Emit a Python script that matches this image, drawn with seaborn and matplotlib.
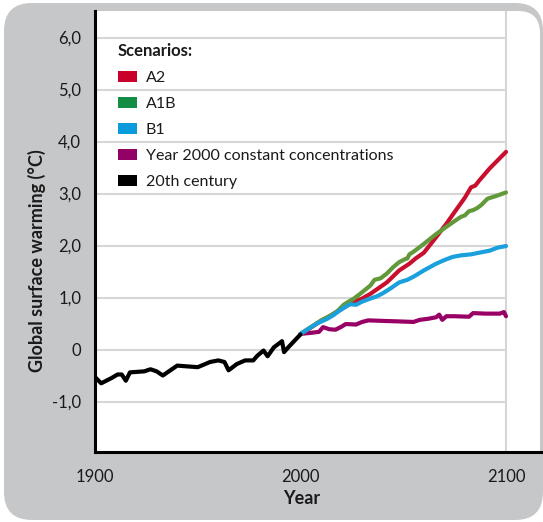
import matplotlib
matplotlib.use("Agg")
import matplotlib.pyplot as plt
from matplotlib.patches import FancyBboxPatch, Rectangle, Patch
from matplotlib.transforms import IdentityTransform
import seaborn as sns
import pandas as pd

# ---- data -------------------------------------------------------------
hist_years = [1900, 1903, 1908, 1911, 1913, 1915, 1917, 1924, 1927, 1930,
              1933, 1940, 1950, 1956, 1960, 1963, 1965, 1969, 1973, 1977,
              1979, 1982, 1984, 1987, 1991, 1992, 1994, 2000]
hist_vals = [-0.53, -0.65, -0.55, -0.48, -0.48, -0.60, -0.44, -0.42, -0.38, -0.42,
             -0.50, -0.31, -0.34, -0.24, -0.21, -0.24, -0.40, -0.28, -0.21, -0.21,
             -0.12, -0.02, -0.13, 0.04, 0.16, -0.05, 0.04, 0.29]

a2_years = [2000, 2005, 2010, 2015, 2020, 2025, 2030, 2034, 2038, 2042, 2048,
            2053, 2056, 2060, 2066, 2071, 2076, 2080, 2083, 2085, 2087, 2092,
            2096, 2100]
a2_vals = [0.30, 0.42, 0.55, 0.66, 0.78, 0.90, 0.98, 1.07, 1.18, 1.29, 1.52,
           1.65, 1.75, 1.86, 2.16, 2.42, 2.70, 2.92, 3.12, 3.15, 3.25, 3.48,
           3.64, 3.80]

a1b_years = [2000, 2005, 2010, 2015, 2018, 2021, 2023, 2026, 2029, 2034, 2036,
             2039, 2042, 2045, 2048, 2051, 2052, 2053, 2055, 2060, 2066, 2071,
             2075, 2078, 2080, 2082, 2084, 2086, 2088, 2091, 2095, 2100]
a1b_vals = [0.30, 0.43, 0.56, 0.66, 0.74, 0.86, 0.91, 0.98, 1.07, 1.23, 1.34,
            1.37, 1.46, 1.58, 1.68, 1.74, 1.75, 1.83, 1.88, 2.03, 2.22, 2.36,
            2.47, 2.55, 2.58, 2.66, 2.68, 2.72, 2.78, 2.90, 2.95, 3.02]

b1_years = [2000, 2004, 2008, 2013, 2016, 2018, 2021, 2024, 2027, 2030, 2034,
            2037, 2040, 2044, 2048, 2052, 2055, 2060, 2066, 2070, 2074, 2078,
            2083, 2088, 2092, 2096, 2100]
b1_vals = [0.30, 0.40, 0.50, 0.59, 0.66, 0.72, 0.80, 0.87, 0.86, 0.92, 0.98,
           1.02, 1.08, 1.18, 1.29, 1.34, 1.40, 1.52, 1.65, 1.72, 1.78, 1.81,
           1.83, 1.87, 1.90, 1.96, 1.99]

const_years = [2000, 2005, 2009, 2011, 2014, 2017, 2020, 2022, 2027, 2030,
               2033, 2040, 2048, 2055, 2058, 2062, 2066, 2067.5, 2069, 2071,
               2075, 2082, 2084, 2090, 2097, 2099, 2100]
const_vals = [0.30, 0.32, 0.34, 0.43, 0.39, 0.38, 0.44, 0.49, 0.48, 0.53,
              0.56, 0.55, 0.54, 0.53, 0.57, 0.59, 0.62, 0.67, 0.57, 0.64,
              0.64, 0.63, 0.70, 0.69, 0.69, 0.72, 0.64]

series_names = ["A2", "A1B", "B1", "Year 2000 constant concentrations", "20th century"]
line_colors = {"A2": "#c8102e", "A1B": "#62993a", "B1": "#1aa0dc",
               "Year 2000 constant concentrations": "#990066",
               "20th century": "#000000"}
legend_colors = ["#c8002a", "#138d44", "#0a9bdc", "#930066", "#000000"]

y_ticks = [-1, 0, 1, 2, 3, 4, 5, 6]
y_tick_labels = ["-1,0", "0", "1,0", "2,0", "3,0", "4,0", "5,0", "6,0"]
x_ticks = [1900, 2000, 2100]
x_tick_labels = ["1900", "2000", "2100"]

frames = []
for name, yrs, vals in [
    ("Year 2000 constant concentrations", const_years, const_vals),
    ("A2", a2_years, a2_vals),
    ("A1B", a1b_years, a1b_vals),
    ("B1", b1_years, b1_vals),
    ("20th century", hist_years, hist_vals),
]:
    frames.append(pd.DataFrame({"year": yrs, "warming": vals, "series": name}))
df = pd.concat(frames, ignore_index=True)

# ---- figure -----------------------------------------------------------
sns.set_theme(style="white")
plt.rcParams["font.family"] = ["Lato", "DejaVu Sans"]
TEXT = "#1a1a1a"
FS = 12
LEG_FS = 11.5

W, H = 543, 522
fig = plt.figure(figsize=(W / 100, H / 100), dpi=100)
fig.patch.set_facecolor("white")

GRAY = "#c6c7c9"
px = IdentityTransform()

def top(y):
    return H - y

# rounded grey frame
fig.add_artist(FancyBboxPatch((4, top(520)), 539, 517,
                              boxstyle="round,pad=0,rounding_size=28",
                              transform=px, facecolor=GRAY, edgecolor="none",
                              zorder=-5))
# white plotting panel with rounded top-right corner
fig.add_artist(FancyBboxPatch((60, top(490)), 480, 479,
                              boxstyle="round,pad=0,rounding_size=22",
                              transform=px, facecolor="white", edgecolor="none",
                              zorder=-4))
fig.add_artist(Rectangle((40, top(495)), 55, 495 - 5, transform=px,
                         facecolor=GRAY, edgecolor="none", zorder=-3))
fig.add_artist(Rectangle((40, top(495)), 500, 495 - 452, transform=px,
                         facecolor=GRAY, edgecolor="none", zorder=-3))

ax_l, ax_r, ax_t, ax_b = 95, 541, 11, 452
ax = fig.add_axes([ax_l / W, (H - ax_b) / H, (ax_r - ax_l) / W, (ax_b - ax_t) / H])
ax.set_facecolor("none")

x0, x1 = 1900, 1900 + (ax_r - ax_l) / ((506 - 95) / 200)
y_per_px = 1 / 52.0
y_zero_px = 349.5
ax.set_xlim(x0, x1)
ax.set_ylim((y_zero_px - ax_b) * y_per_px, (y_zero_px - ax_t) * y_per_px)

# grid: horizontal lines stop at 2100, single vertical line at 2100
ax.hlines(y_ticks, 1900, 2100, colors="#d6d6d6", linewidth=1.5, zorder=1)
ax.axvline(2100, color="#d6d6d6", linewidth=1.5, zorder=1)

sns.lineplot(data=df, x="year", y="warming", hue="series", palette=line_colors,
             hue_order=["Year 2000 constant concentrations", "A2", "A1B", "B1",
                        "20th century"],
             sort=False, estimator=None, linewidth=3.0, legend=False, ax=ax,
             zorder=3)

for spine in ["top", "right"]:
    ax.spines[spine].set_visible(False)
for spine in ["left", "bottom"]:
    ax.spines[spine].set_color("black")
    ax.spines[spine].set_linewidth(2.2)

ax.set_yticks(y_ticks)
ax.set_yticklabels(y_tick_labels)
ax.set_xticks(x_ticks)
ax.set_xticklabels(x_tick_labels)
ax.tick_params(axis="both", length=0, labelsize=FS, colors=TEXT)
ax.tick_params(axis="y", pad=10)
ax.tick_params(axis="x", pad=12)

ax.set_xlabel("Year", fontsize=FS + 1, fontweight="bold", color=TEXT)
ax.set_ylabel("Global surface warming (°C)", fontsize=FS + 1, fontweight="bold",
              color=TEXT)
ax.xaxis.set_label_coords((302 - ax_l) / (ax_r - ax_l), (ax_b - 490) / (ax_b - ax_t))
ax.yaxis.set_label_coords((46 - ax_l) / (ax_r - ax_l), (ax_b - 261) / (ax_b - ax_t))

handles = [Patch(facecolor=c, edgecolor="none") for c in legend_colors]
leg = ax.legend(handles, series_names, title="Scenarios:", loc="upper left",
                bbox_to_anchor=((118 - ax_l) / (ax_r - ax_l), (ax_b - 43) / (ax_b - ax_t)),
                frameon=False, fontsize=LEG_FS, alignment="left",
                title_fontproperties={"weight": "bold", "size": FS},
                handlelength=1.17, handleheight=0.71, handletextpad=0.56,
                labelspacing=0.74, borderaxespad=0, borderpad=0)
for t in leg.get_texts():
    t.set_color(TEXT)
leg.get_title().set_color(TEXT)

fig.savefig("out.png", dpi=100)
